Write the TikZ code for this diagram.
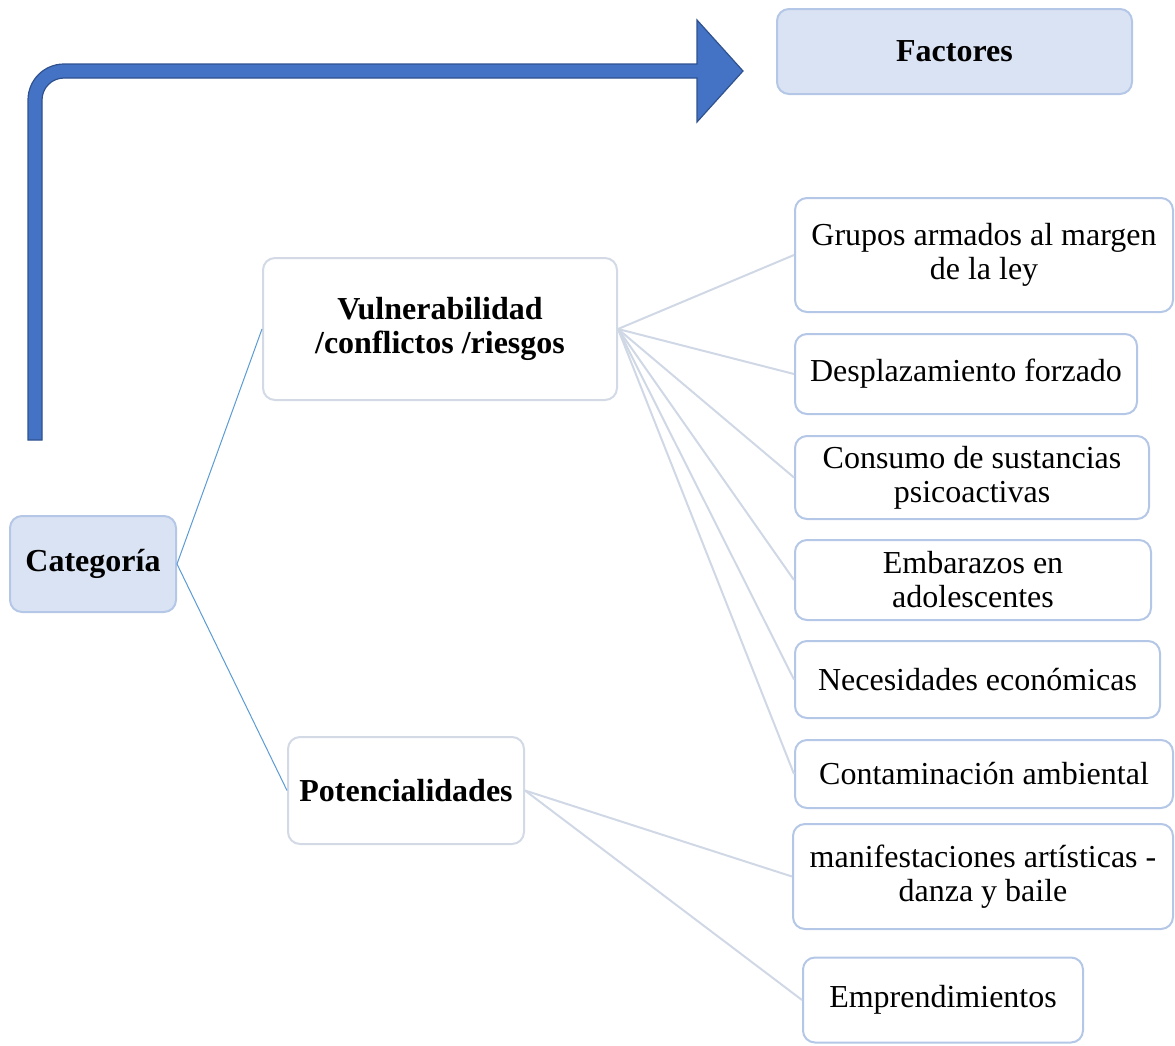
\documentclass[tikz,border=0pt]{standalone}
\usepackage{fontspec}
\setmainfont{Liberation Serif}
\definecolor{boxblue}{HTML}{B4C7E7}
\definecolor{catfill}{HTML}{DAE3F3}
\definecolor{midline}{HTML}{D3DAE6}
\definecolor{linkblue}{HTML}{5B9BD5}
\definecolor{linkgray}{HTML}{D0D8E6}
\definecolor{arrowfill}{HTML}{4472C4}
\definecolor{arrowedge}{HTML}{2F528F}
\tikzset{
  basebox/.style={line width=2pt, rounded corners=12pt, inner sep=0pt, align=center, text=black},
  catbox/.style={basebox, draw=boxblue, fill=catfill, font=\bfseries\fontsize{32}{34}\selectfont},
  midbox/.style={basebox, draw=midline, fill=white, font=\bfseries\fontsize{32}{34}\selectfont},
  leafbox/.style={basebox, draw=boxblue, fill=white, font=\fontsize{32}{34}\selectfont},
  catlink/.style={draw=linkblue, line width=1pt},
  leaflink/.style={draw=linkgray, line width=2pt},
  bigarrow/.style={fill=arrowfill, draw=arrowedge, line width=1.2pt, line join=miter}
}
\begin{document}
\begin{tikzpicture}[x=1pt,y=-1pt]
\useasboundingbox (0,0) rectangle (1175,1045);
% big bent arrow
\path[bigarrow] (28,440) -- (28,100) .. controls (28,80.1) and (44.1,64) .. (64,64)
  -- (697,64) -- (697,20) -- (743,71) -- (697,122) -- (697,78) -- (64,78)
  .. controls (51.85,78) and (42,87.85) .. (42,100) -- (42,440) -- cycle;
% nodes
\node[catbox, minimum width=355pt, minimum height=85pt] (fac) at (954.5,51.5) {Factores};
\node[catbox, minimum width=166pt, minimum height=96pt] (cat) at (93,564) {Categoría};
\node[midbox, minimum width=354pt, minimum height=142pt] (vul) at (440,329) {Vulnerabilidad\\/conflictos /riesgos};
\node[midbox, minimum width=236pt, minimum height=107pt] (pot) at (406,790.5) {Potencialidades};
\node[leafbox, minimum width=378pt, minimum height=114pt] (r1) at (984,255) {Grupos armados al margen\\de la ley};
\node[leafbox, minimum width=342pt, minimum height=80pt] (r2) at (966,374) {Desplazamiento forzado};
\node[leafbox, minimum width=354pt, minimum height=83pt] (r3) at (972,477.5) {Consumo de sustancias\\psicoactivas};
\node[leafbox, minimum width=356pt, minimum height=80pt] (r4) at (973,580) {Embarazos en\\adolescentes};
\node[leafbox, minimum width=365pt, minimum height=77pt] (r5) at (977.5,679.5) {Necesidades económicas};
\node[leafbox, minimum width=378pt, minimum height=68pt] (r6) at (984,774) {Contaminación ambiental};
\node[leafbox, minimum width=380pt, minimum height=105pt] (r7) at (983,876.5) {manifestaciones artísticas -\\danza y baile};
\node[leafbox, minimum width=280pt, minimum height=85pt] (r8) at (943,1000) {Emprendimientos};
% connectors
\draw[catlink] (cat.east) -- (vul.west);
\draw[catlink] (cat.east) -- (pot.west);
\foreach \r in {r1,r2,r3,r4,r5,r6} {\draw[leaflink] (vul.east) -- (\r.west);}
\draw[leaflink] (pot.east) -- (r7.west);
\draw[leaflink] (pot.east) -- (r8.west);
\end{tikzpicture}
\end{document}
